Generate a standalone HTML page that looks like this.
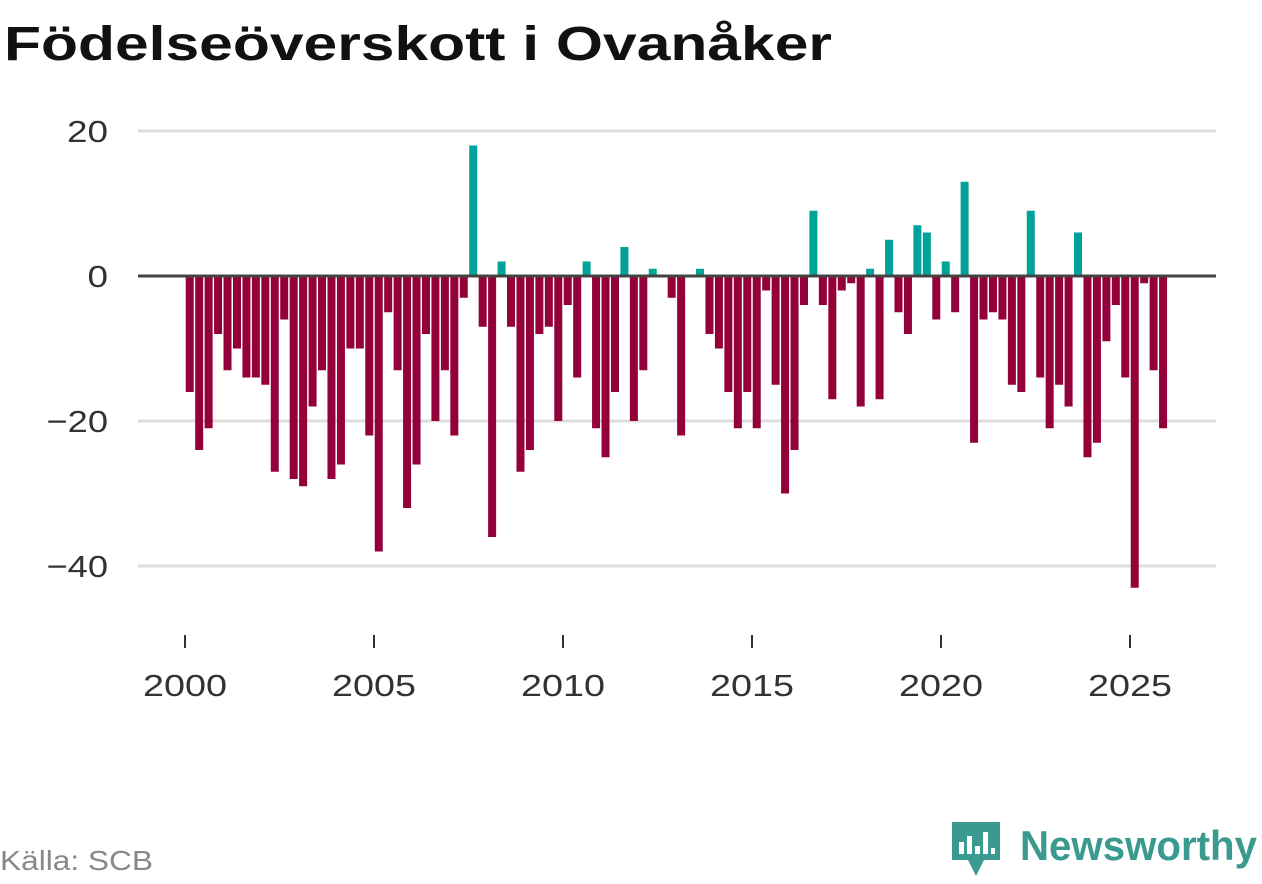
<!DOCTYPE html>
<html><head><meta charset="utf-8"><style>
body{margin:0;background:#fff;width:1262px;height:879px;overflow:hidden;font-family:"Liberation Sans",sans-serif;}
</style></head><body>
<svg width="1262" height="879">
<text x="4" y="60" font-size="48" font-weight="bold" fill="#111" textLength="828" lengthAdjust="spacingAndGlyphs">Födelseöverskott i Ovanåker</text>
<g id="grid"></g><g id="bars"></g><g id="axis"></g>
<text x="0" y="870" font-size="28" fill="#888" textLength="153" lengthAdjust="spacingAndGlyphs">Källa: SCB</text>
<g>
<path d="M952 822 h48 v38 h-16 l-8 16 l-8 -16 h-16 z" fill="#3a9a8f"/>
<rect x="959" y="842" width="5" height="12" fill="#fff"/><rect x="967" y="836" width="5" height="18" fill="#fff"/><rect x="975" y="846" width="5" height="8" fill="#fff"/><rect x="983" y="832" width="5" height="22" fill="#fff"/><rect x="991" y="848" width="4" height="6" fill="#fff"/>
<text x="1020" y="860" font-size="42" font-weight="bold" fill="#3a9a8f" textLength="237" lengthAdjust="spacingAndGlyphs">Newsworthy</text>
</g>
</svg>
<script>
const values=[-16,-24,-21,-8,-13,-10,-14,-14,-15,-27,-6,-28,-29,-18,-13,-28,-26,-10,-10,-22,-38,-5,-13,-32,-26,-8,-20,-13,-22,-3,18,-7,-36,2,-7,-27,-24,-8,-7,-20,-4,-14,2,-21,-25,-16,4,-20,-13,1,0,-3,-22,0,1,-8,-10,-16,-21,-16,-21,-2,-15,-30,-24,-4,9,-4,-17,-2,-1,-18,1,-17,5,-5,-8,7,6,-6,2,-5,13,-23,-6,-5,-6,-15,-16,9,-14,-21,-15,-18,6,-25,-23,-9,-4,-14,-43,-1,-13,-21];
const startYear=2000;
const yTicks=[20,0,-20,-40];
const yTickLabels=["20","0","−20","−40"];
const xTicks=[2000,2005,2010,2015,2020,2025];
const NS="http://www.w3.org/2000/svg";
const xs=t=>185+(t-2000)*37.8;
const ys=v=>276-v*7.25;
function mk(tag,attrs,parent){const e=document.createElementNS(NS,tag);for(const k in attrs)e.setAttribute(k,attrs[k]);parent.appendChild(e);return e;}
const grid=document.getElementById('grid'),bars=document.getElementById('bars'),axis=document.getElementById('axis');
yTicks.forEach((v,i)=>{
 if(v!==0){const l=mk('line',{x1:138,x2:1216,y1:ys(v),y2:ys(v),stroke:'#ddd','stroke-width':3},grid);
 
 }
 const lab=yTickLabels[i];
 const t=mk('text',{x:108,y:ys(v)+11,'font-size':31,fill:'#333','text-anchor':'end',textLength:lab.length*20.5,lengthAdjust:'spacingAndGlyphs'},grid);
 t.textContent=lab;
 
 
});
values.forEach((v,i)=>{
 const cx=xs(startYear+(i+0.5)/4);
 const y0=ys(0),y1=ys(v);
 const r=mk('rect',{x:cx-4,y:Math.min(y0,y1),width:8,height:Math.abs(y1-y0),fill:v>=0?'#00a39a':'#93003a'},bars);
 
 
});
const z=mk('line',{x1:138,x2:1216,y1:ys(0),y2:ys(0),stroke:'#444','stroke-width':3},axis);


xTicks.forEach(yr=>{
 const x=xs(yr);
 const tk=mk('line',{x1:x,x2:x,y1:635,y2:648,stroke:'#333','stroke-width':2},axis);
 
 
 const t=mk('text',{x:x,y:696,'font-size':31,fill:'#333','text-anchor':'middle',textLength:84,lengthAdjust:'spacingAndGlyphs'},axis);
 t.textContent=yr;
 
 
});
</script>
</body></html>
